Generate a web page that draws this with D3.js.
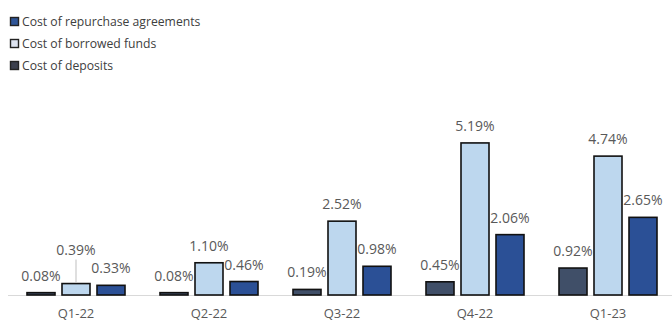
<!DOCTYPE html>
<html><head><meta charset="utf-8">
<script src="https://cdn.jsdelivr.net/npm/d3@7"></script>
<style>html,body{margin:0;padding:0;background:#fff;}svg{display:block;}</style>
</head><body>
<svg id="chart" width="672" height="322"></svg>
<script>
const categories = ["Q1-22","Q2-22","Q3-22","Q4-22","Q1-23"];
const seriesNames = ["Cost of repurchase agreements","Cost of borrowed funds","Cost of deposits"];
const repurchase = [0.08, 0.08, 0.19, 0.45, 0.92];
const borrowed = [0.39, 1.10, 2.52, 5.19, 4.74];
const deposits = [0.33, 0.46, 0.98, 2.06, 2.65];
const valueLabels = {
  repurchase: ["0.08%","0.08%","0.19%","0.45%","0.92%"],
  borrowed: ["0.39%","1.10%","2.52%","5.19%","4.74%"],
  deposits: ["0.33%","0.46%","0.98%","2.06%","2.65%"]
};

const barColors = ["#404f68", "#bdd7ee", "#2b5096"];
const legendColors = ["#2f5597", "#dde3f0", "#3b3f4d"];
const font = "'Open Sans', sans-serif";

const svg = d3.select("#chart");
const seriesData = [repurchase, borrowed, deposits];
const keys = ["repurchase","borrowed","deposits"];

const x0 = d3.scaleBand().domain(categories).range([9.5, 674.5]).padding(0);
const x1 = d3.scaleBand().domain(d3.range(3)).range([17.5, 115.5]).paddingInner(0.2);
const y = d3.scaleLinear().domain([0, 6]).range([295, 119.2]);

// axis baseline
svg.append("line").attr("x1", 8).attr("x2", 672).attr("y1", 295.5).attr("y2", 295.5)
  .attr("stroke", "#d9d9d9").attr("stroke-width", 1);

const groups = svg.selectAll("g.grp").data(categories).join("g")
  .attr("class","grp").attr("transform", c => `translate(${x0(c)},0)`);

groups.each(function(c, i) {
  const g = d3.select(this);
  seriesData.forEach((arr, s) => {
    const v = arr[i];
    const bx = x1(s), bw = x1.bandwidth();
    g.append("rect").attr("x", bx).attr("y", y(v)).attr("width", bw).attr("height", y(0) - y(v))
      .attr("fill", barColors[s]).attr("stroke", "#111").attr("stroke-width", 1.6);
    let ly = y(v) - 12;
    const special = (i === 0 && s === 1);
    if (special) {
      ly = y(v) - 29;
      g.append("line").attr("x1", bx + bw/2).attr("x2", bx + bw/2)
        .attr("y1", ly + 5).attr("y2", y(v) - 1).attr("stroke", "#bfbfbf").attr("stroke-width", 1);
    }
    g.append("text").attr("x", bx + bw/2).attr("y", ly).attr("text-anchor", "middle")
      .attr("font-family", font).attr("font-size", 14).attr("fill", "#595959")
      .text(valueLabels[keys[s]][i]);
  });
});

// category labels
svg.selectAll("text.cat").data(categories).join("text").attr("class","cat")
  .attr("x", c => x0(c) + x0.bandwidth()/2).attr("y", 317.5).attr("text-anchor","middle")
  .attr("font-family", font).attr("font-size", 13).attr("fill", "#595959").text(c => c);

// legend
const legend = svg.append("g");
seriesNames.forEach((n, s) => {
  const ly = 17 + s * 22;
  legend.append("rect").attr("x", 10.5).attr("y", ly + 0.5).attr("width", 8).attr("height", 8)
    .attr("fill", legendColors[s]).attr("stroke", "#222").attr("stroke-width", 1.4);
  legend.append("text").attr("x", 22).attr("y", ly + 9).attr("font-family", font)
    .attr("font-size", 12.2).attr("fill", "#404040").text(n);
});
</script>
</body></html>
